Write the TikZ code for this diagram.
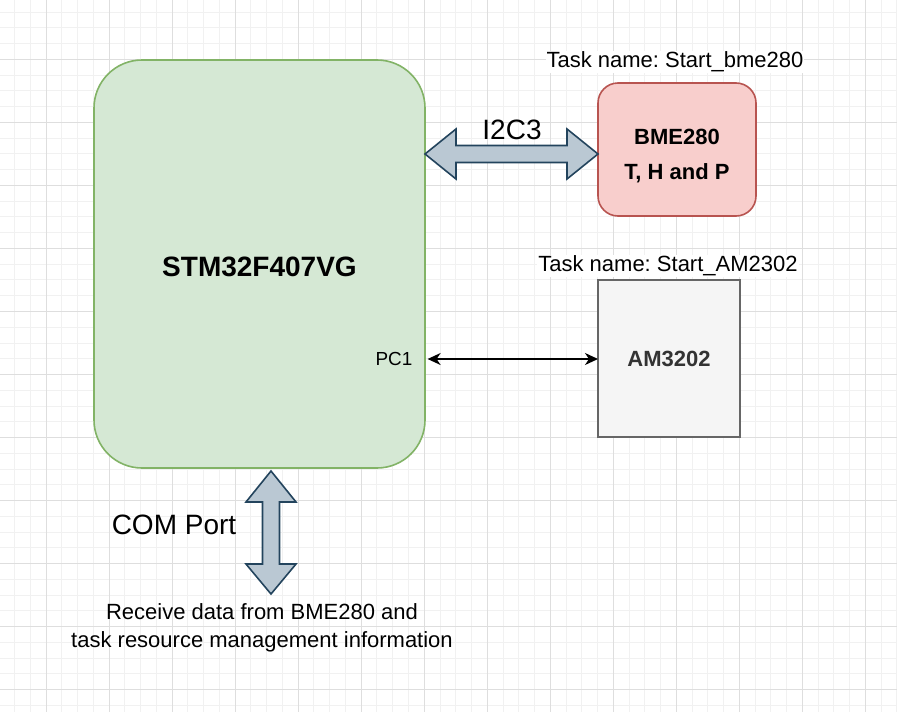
\documentclass[tikz,border=0pt]{standalone}
\usepackage{fontspec}
\setmainfont{Liberation Sans}
\usetikzlibrary{
  arrows.meta,
  calc,
  positioning,
}
\definecolor{mcugreen}{HTML}{D5E8D4}
\definecolor{mcuedge}{HTML}{82B366}
\definecolor{bmered}{HTML}{F8CECC}
\definecolor{bmeedge}{HTML}{B85450}
\definecolor{amgray}{HTML}{F5F5F5}
\definecolor{amedge}{HTML}{666666}
\definecolor{amtext}{HTML}{333333}
\definecolor{busfill}{HTML}{BAC8D3}
\definecolor{busedge}{HTML}{23445D}
\definecolor{gridminor}{HTML}{F1F1F1}
\definecolor{gridmajor}{HTML}{DEDEDE}

\tikzstyle{block} = [
  draw,
  line width=1.6pt,
  inner sep=0pt,
  outer sep=0pt,
  align=center,
  font=\fontsize{22}{35}\selectfont\bfseries,
]
\tikzstyle{bus} = [
  fill=busfill,
  draw=busedge,
  line width=1.6pt,
  line join=miter,
]
\tikzstyle{wire} = [
  {Stealth[length=13pt,width=12pt,inset=4pt]}-{Stealth[length=13pt,width=12pt,inset=4pt]},
  line width=1.6pt,
  black,
]
\tikzstyle{tasktext} = [
  font=\fontsize{22}{27}\selectfont,
  inner sep=1pt,
  fill=white,
]
\tikzstyle{bustext} = [
  font=\fontsize{28}{32}\selectfont,
]

\begin{document}
\frenchspacing
\begin{tikzpicture}[x=1pt, y=-1pt]

        \useasboundingbox (0,0) rectangle (897,712);
        \fill [white] (0,0) rectangle (897,712);

        \foreach \i in {0,...,57} {
          \draw [gridminor, line width=0.8pt] ({-1.3+\i*15.757},0) -- ++(0,712);
        }
        \foreach \i in {0,...,46} {
          \draw [gridminor, line width=0.8pt] (0,{-3.73+\i*15.757}) -- ++(897,0);
        }
        \foreach \i in {0,...,14} {
          \draw [gridmajor, line width=1pt] ({-17.03+\i*63.03},0) -- ++(0,712);
        }
        \foreach \i in {0,...,11} {
          \draw [gridmajor, line width=1pt] (0,{-3.73+\i*63.03}) -- ++(897,0);
        }

        \node [block, rounded corners=48pt, fill=mcugreen, draw=mcuedge,
               minimum width=331pt, minimum height=408pt,
               font=\fontsize{28}{32}\selectfont\bfseries]
              (mcu) at (259.5,264) {\rule{0pt}{26pt}STM32F407VG};

        \node [block, rounded corners=20pt, fill=bmered, draw=bmeedge,
               minimum width=158pt, minimum height=133pt]
              (bme) at (677,149.5) {\rule{0pt}{28pt}BME280\\T, H and P};

        \node [block, fill=amgray, draw=amedge, text=amtext,
               minimum width=142pt, minimum height=157pt]
              (am) at (669,358.5) {AM3202};

        \node [tasktext] (bmetask) at (675,62) {Task name: Start\_bme280};

        \node [tasktext] (amtask) at (668,266) {Task name: Start\_AM2302};

        % I2C bus
        \coordinate (i2cL) at (mcu.east |- 0,154);
        \coordinate (i2cR) at (bme.west |- 0,154);
        \draw [bus] (i2cL) -- ++(31,-25) -- ++(0,16.5)
              -- ($(i2cR)+(-31,-8.5)$) -- ++(0,-16.5) -- (i2cR)
              -- ++(-31,25) -- ++(0,-16.5)
              -- ($(i2cL)+(31,8.5)$) -- ++(0,16.5) -- cycle;
        \node [bustext] (i2clabel) at (512,130) {I2C3};

        % one wire
        \node [font=\fontsize{18.9}{22}\selectfont] (pc1) at (394,359) {PC1};
        \draw [wire] ([xshift=11.7pt]pc1.east) -- (am.west |- pc1.east);

        % COM port
        \coordinate (comT) at (271,471);
        \coordinate (comB) at (271,594);
        \draw [bus] (comT) -- ++(25,31) -- ++(-16.5,0)
              -- ($(comB)+(8.5,-30)$) -- ++(16.5,0) -- (comB)
              -- ++(-25,-30) -- ++(16.5,0)
              -- ($(comT)+(-8.5,31)$) -- ++(-16.5,0) -- cycle;
        \node [bustext] (comlabel) at (174,525) {COM Port};

        \node [font=\fontsize{22}{28}\selectfont, align=center]
              (info) at (262,628)
              {Receive data from BME280 and\\task resource management information};

      \end{tikzpicture}
\end{document}
